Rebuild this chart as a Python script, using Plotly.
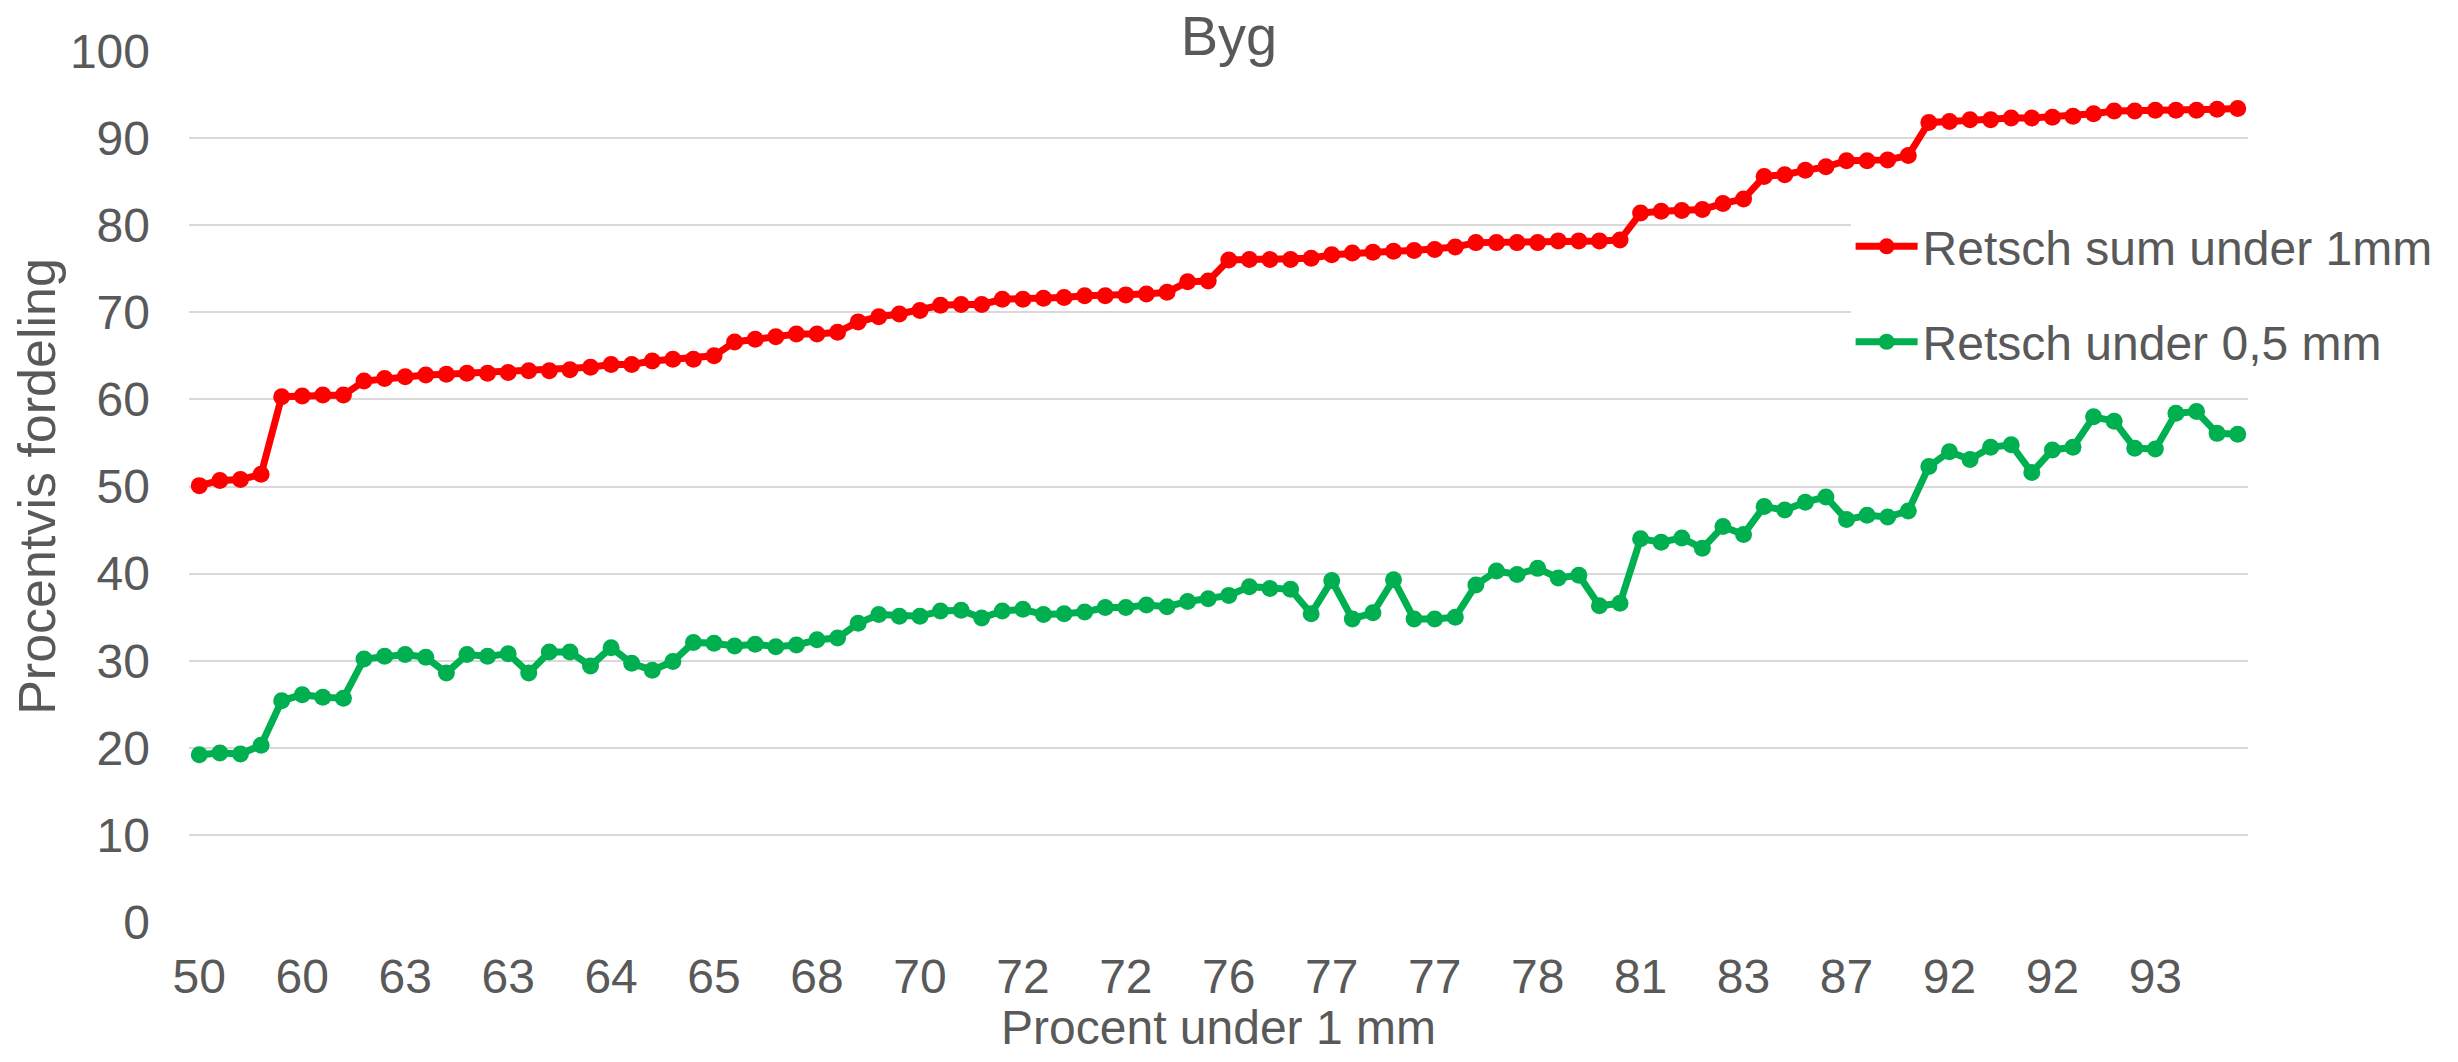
import plotly.graph_objects as go

# x tick labels (every 5th category, Excel shows rounded "Procent under 1 mm")
x_tick_labels = ['50', '60', '63', '63', '64', '65', '68', '70', '72', '72',
                 '76', '77', '77', '78', '81', '83', '87', '92', '92', '93']

# Retsch sum under 1mm (100 samples)
retsch_sum_1mm = [
    50.1, 50.7, 50.8, 51.4, 60.3, 60.4, 60.5, 60.5, 62.1, 62.4,
    62.6, 62.8, 62.9, 63.0, 63.0, 63.1, 63.3, 63.3, 63.4, 63.7,
    64.0, 64.0, 64.4, 64.6, 64.6, 65.0, 66.6, 66.9, 67.2, 67.5,
    67.5, 67.7, 68.9, 69.5, 69.8, 70.2, 70.8, 70.9, 70.9, 71.5,
    71.5, 71.6, 71.7, 71.9, 71.9, 72.0, 72.1, 72.3, 73.5, 73.6,
    76.0, 76.05, 76.05, 76.05, 76.2, 76.6, 76.8, 76.9, 77.0, 77.1,
    77.2, 77.5, 78.0, 78.0, 78.0, 78.0, 78.2, 78.2, 78.2, 78.3,
    81.4, 81.6, 81.7, 81.8, 82.5, 83.0, 85.6, 85.8, 86.3, 86.7,
    87.4, 87.4, 87.5, 88.0, 91.8, 91.9, 92.1, 92.1, 92.3, 92.3,
    92.4, 92.5, 92.8, 93.1, 93.1, 93.2, 93.2, 93.2, 93.3, 93.4,
]

# Retsch under 0,5 mm
retsch_05mm = [
    19.2, 19.4, 19.3, 20.3, 25.4, 26.1, 25.8, 25.7, 30.2, 30.5,
    30.7, 30.4, 28.6, 30.7, 30.5, 30.8, 28.6, 31.0, 31.0, 29.4,
    31.5, 29.7, 28.9, 29.9, 32.1, 32.0, 31.7, 31.9, 31.6, 31.8,
    32.4, 32.6, 34.3, 35.3, 35.1, 35.1, 35.7, 35.8, 34.9, 35.7,
    35.9, 35.3, 35.4, 35.6, 36.1, 36.1, 36.4, 36.2, 36.8, 37.1,
    37.5, 38.5, 38.3, 38.2, 35.4, 39.2, 34.8, 35.5, 39.3, 34.8,
    34.8, 35.0, 38.7, 40.3, 39.9, 40.6, 39.5, 39.8, 36.3, 36.6,
    44.0, 43.6, 44.1, 42.9, 45.4, 44.5, 47.7, 47.3, 48.2, 48.8,
    46.2, 46.7, 46.5, 47.2, 52.3, 54.0, 53.1, 54.5, 54.8, 51.6,
    54.2, 54.5, 58.0, 57.5, 54.4, 54.3, 58.4, 58.6, 56.1, 56.0,
]

TEXT = '#595959'
GRID = '#D9D9D9'
FONT = 'Liberation Sans, Arial, sans-serif'

x = list(range(len(retsch_sum_1mm)))
tick_pos = list(range(0, len(x), 5))

fig = go.Figure()
fig.add_trace(go.Scatter(
    x=x, y=retsch_sum_1mm, mode='lines+markers', name='Retsch sum under 1mm',
    legendgroup='a',
    line=dict(color='#FF0000', width=7),
    marker=dict(color='#FF0000', size=17),
))
fig.add_trace(go.Scatter(
    x=x, y=retsch_05mm, mode='lines+markers', name='Retsch under 0,5 mm',
    legendgroup='b',
    line=dict(color='#00B050', width=7),
    marker=dict(color='#00B050', size=17),
))

fig.update_layout(
    width=2442, height=1046,
    paper_bgcolor='white', plot_bgcolor='white',
    font=dict(family=FONT, color=TEXT, size=48),
    margin=dict(l=181, r=199, t=43, b=132),
    title=dict(text='Byg', x=0.5, xanchor='center', y=1 - 27 / 1046, yanchor='middle',
               font=dict(size=56, color=TEXT, family=FONT)),
    showlegend=True,
    legend=dict(x=0.807, xanchor='left', y=0.819, yanchor='top',
                bgcolor='white', font=dict(size=48, color=TEXT, family=FONT),
                traceorder='grouped', tracegroupgap=30, itemwidth=62),
    xaxis=dict(
        range=[-0.5, len(x) - 0.5], tickmode='array', tickvals=tick_pos, ticktext=x_tick_labels,
        showgrid=False, zeroline=False, showline=False, ticks='',
        ticklabelstandoff=22, automargin=False,
        title=dict(text='Procent under 1 mm', standoff=22, font=dict(size=48)),
    ),
    yaxis=dict(
        range=[0, 100], dtick=10, showgrid=True, gridcolor=GRID, gridwidth=2,
        zeroline=False, showline=False, ticks='', ticklabelstandoff=38, automargin=False,
        title=dict(text='Procentvis fordeling', standoff=14, font=dict(size=52)),
    ),
)

fig.write_html("out.html")
